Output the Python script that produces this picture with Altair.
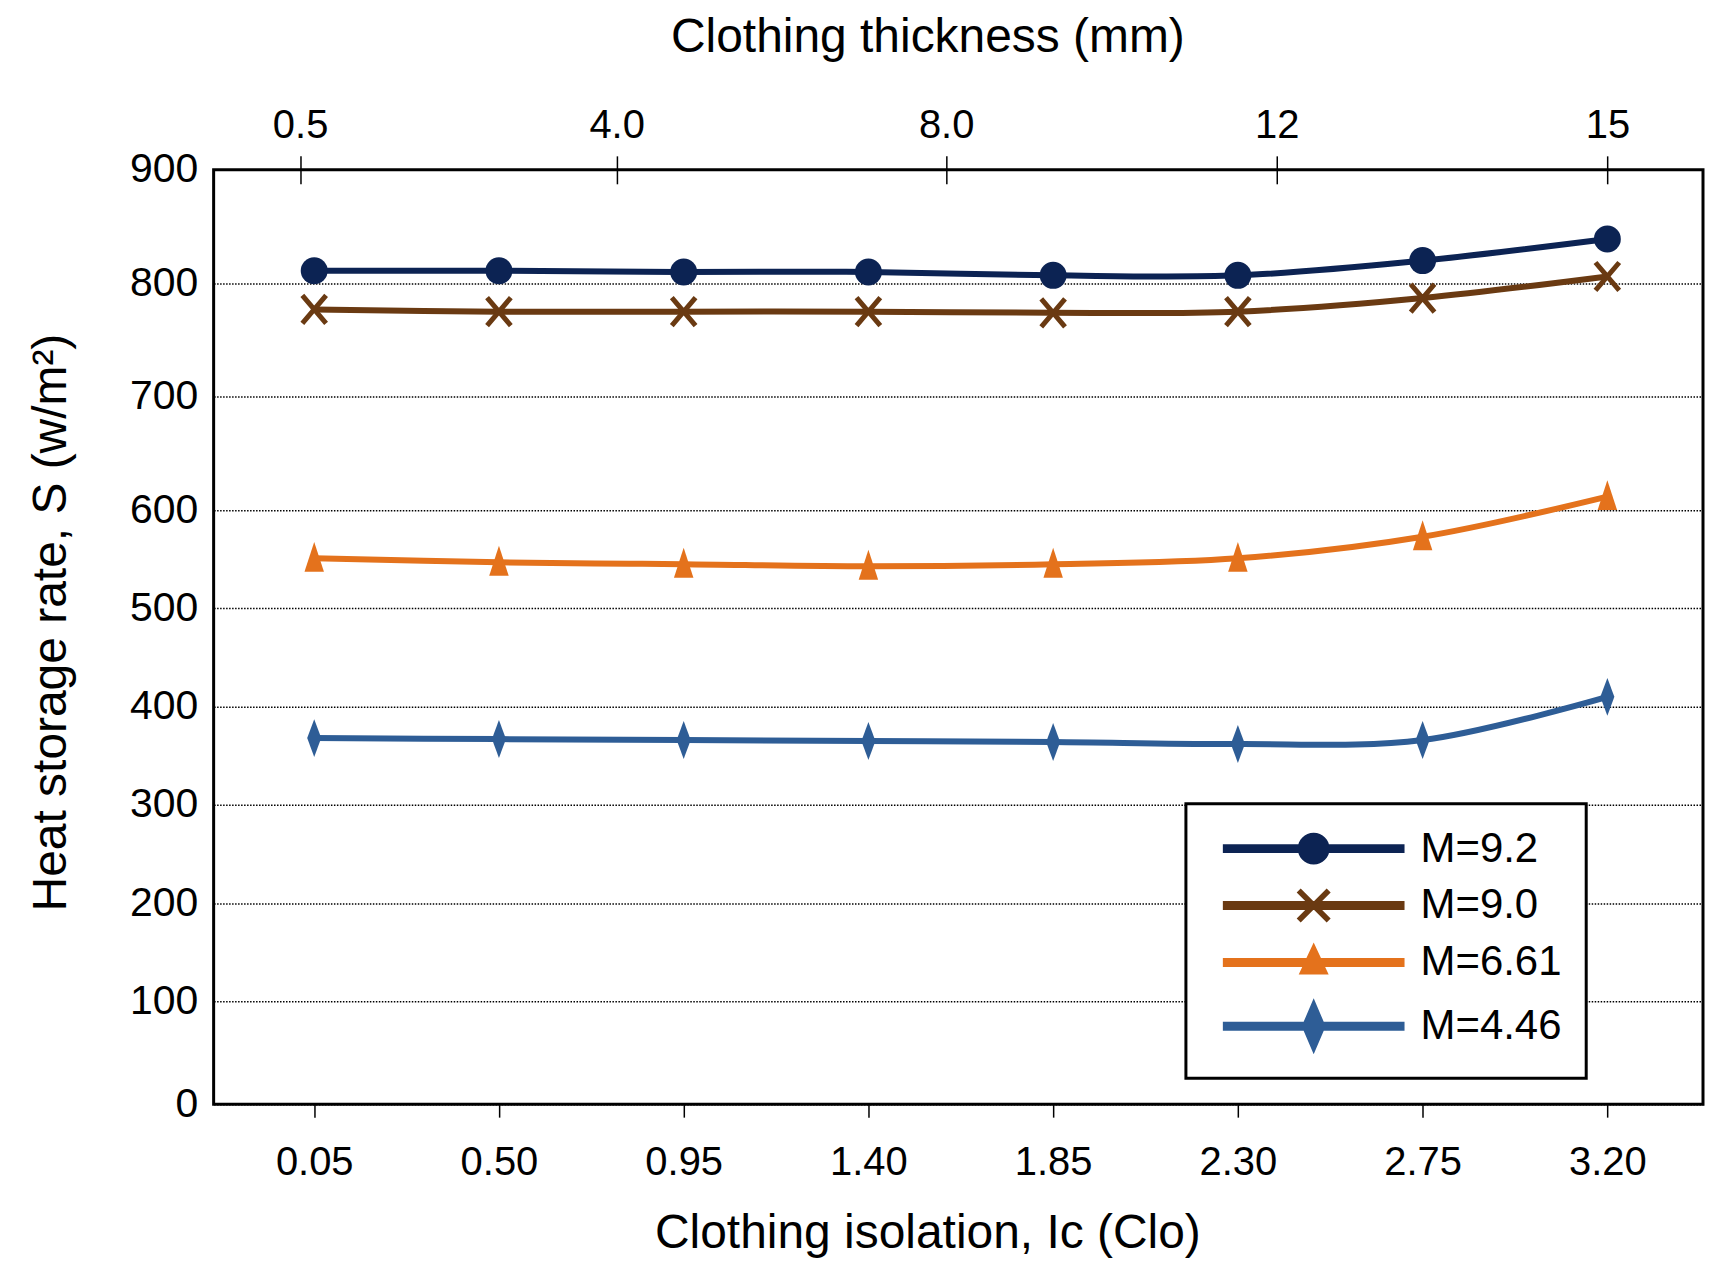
import altair as alt
import pandas as pd

# clothing isolation (Clo) at each measured point
CLO = [0.05, 0.50, 0.95, 1.40, 1.85, 2.30, 2.75, 3.20]
SERIES = ["M=9.2", "M=9.0", "M=6.61", "M=4.46"]
S_M92 = [811, 811, 810, 810, 807, 807, 820, 839]
S_M90 = [777, 775, 775, 775, 774, 775, 787, 806]
S_M661 = [551, 547, 545, 543, 545, 551, 573, 612]
S_M446 = [368, 367, 366, 365, 364, 362, 366, 410]

Y_TICKS = [0, 100, 200, 300, 400, 500, 600, 700, 800, 900]
THICK_TICKS = [0.5, 4.0, 8.0, 12, 15]
THICK_LABELS = ["0.5", "4.0", "8.0", "12", "15"]

COLORS = ["#0c2353", "#6a3a12", "#e4721c", "#2e5d96"]
FONT = "Liberation Sans"
W, H = 1492, 936

# marker shapes drawn on the curves
SHAPES = [
    ("circle", True, 729),
    ("M-0.85,-1L0.85,1M-0.85,1L0.85,-1", False, 784),
    ("M0,-1.1L0.65,0.9L-0.65,0.9Z", True, 900),
    ("M0,-1L0.37,0L0,1L-0.37,0Z", True, 1444),
]

# legend glyphs: line segment + marker (pixel units, symbolSize=4)
LEG_LINE = "M-91,-4.5L91,-4.5L91,4.5L-91,4.5Z"
LEG_SHAPES = [
    LEG_LINE + "M-16,0A16,16 0 1 1 16,0A16,16 0 1 1 -16,0Z",
    LEG_LINE + "M-17,-13L-13,-17L17,13L13,17ZM13,-17L17,-13L-13,17L-17,13Z",
    LEG_LINE + "M0,-20L15,12L-15,12Z",
    LEG_LINE + "M0,-28L12,0L0,28L-12,0Z",
]

rows = []
for name, vals in zip(SERIES, [S_M92, S_M90, S_M661, S_M446]):
    for c, v in zip(CLO, vals):
        rows.append({"series": name, "clo": c, "s": v})
df = pd.DataFrame(rows)

x_scale = alt.Scale(domain=[-0.195, 3.433], nice=False, zero=False)
y_scale = alt.Scale(domain=[0, 100, 600, 900], range=[936, 833, 341, 0], nice=False, zero=False)

X_AXIS = alt.Axis(
    values=CLO,
    format=".2f",
    grid=False,
    domain=False,
    tickSize=13,
    tickWidth=1.5,
    tickColor="black",
    labelPadding=25,
    labelFontSize=40,
    labelFlush=False,
    title="Clothing isolation, Ic (Clo)",
    titleFontSize=48,
    titleX=715,
    titleY=144,
    titleBaseline="alphabetic",
    titleAlign="center",
)
Y_AXIS = alt.Axis(
    values=Y_TICKS,
    domain=False,
    ticks=False,
    labelPadding=16,
    labelFontSize=41,
    grid=True,
    gridColor="black",
    gridDash=[1.5, 1.5],
    gridWidth=1.5,
    title="Heat storage rate, S (w/m²)",
    titleFontSize=48,
    titleAngle=270,
    titleX=-148,
    titleY=453,
    titleBaseline="alphabetic",
    titleAlign="center",
)

base = alt.Chart(df)
layers = []
for i, (name, col, (shape, filled, size)) in enumerate(zip(SERIES, COLORS, SHAPES)):
    sub = base.transform_filter(alt.datum.series == name)
    x_enc = alt.X("clo:Q", scale=x_scale, axis=X_AXIS if i == 0 else None)
    y_enc = alt.Y("s:Q", scale=y_scale, axis=Y_AXIS)
    layers.append(
        sub.mark_line(interpolate="catmull-rom", strokeWidth=6, color=col).encode(x=x_enc, y=y_enc)
    )
    if filled:
        pt = sub.mark_point(shape=shape, filled=True, fill=col, size=size, opacity=1)
    else:
        pt = sub.mark_point(shape=shape, filled=False, stroke=col, strokeWidth=5, size=size, opacity=1)
    layers.append(
        pt.encode(x=alt.X("clo:Q", scale=x_scale, axis=None), y=y_enc)
    )

leg = alt.Legend(title=None, orient="none", legendX=974, legendY=635)
legend_layer = (
    base.transform_filter("false")
    .mark_point(filled=True, opacity=1)
    .encode(
        color=alt.Color("series:N", scale=alt.Scale(domain=SERIES, range=COLORS), legend=leg),
        shape=alt.Shape("series:N", scale=alt.Scale(domain=SERIES, range=LEG_SHAPES), legend=leg),
    )
)
layers.append(legend_layer)

top_label_expr = "{}[indexof({}, datum.value)]".format(
    "[" + ",".join("'%s'" % t for t in THICK_LABELS) + "]",
    "[" + ",".join(str(v) for v in THICK_TICKS) + "]",
)
top_axis = (
    alt.Chart(pd.DataFrame({"mm": THICK_TICKS}))
    .mark_point(opacity=0)
    .encode(
        x=alt.X(
            "mm:Q",
            scale=alt.Scale(domain=THICK_TICKS, range=[86.6, 403.7, 733.8, 1065, 1396.3], nice=False, zero=False),
            axis=alt.Axis(
                orient="top",
                values=THICK_TICKS,
                labelExpr=top_label_expr,
                labelFlush=False,
                grid=False,
                domain=False,
                offset=-14,
                tickSize=28,
                tickWidth=1.5,
                tickColor="black",
                labelPadding=10,
                labelFontSize=40,
                title="Clothing thickness (mm)",
                titleFontSize=48,
                titleX=715,
                titleY=-133,
                titleBaseline="alphabetic",
                titleAlign="center",
            ),
        )
    )
)
layers.append(top_axis)

chart = (
    alt.layer(*layers)
    .resolve_scale(x="independent")
    .properties(
        width=W,
        height=H,
        autosize=alt.AutoSizeParams(type="none"),
        padding={"left": 206, "top": 161, "right": 2, "bottom": 158},
    )
    .configure_view(stroke="black", strokeWidth=3)
    .configure_axis(
        labelFont=FONT,
        titleFont=FONT,
        labelColor="black",
        titleColor="black",
        titleFontWeight="normal",
    )
    .configure_legend(
        labelFont=FONT,
        labelFontSize=42,
        labelColor="black",
        symbolSize=4,
        symbolOffset=83,
        labelOffset=86,
        symbolStrokeWidth=0,
        rowPadding=15,
        padding=24,
        strokeColor="black",
        strokeWidth=3,
        fillColor="white",
        labelLimit=400,
    )
)

chart.save("out.html", embed_options={"renderer": "svg", "actions": False})
